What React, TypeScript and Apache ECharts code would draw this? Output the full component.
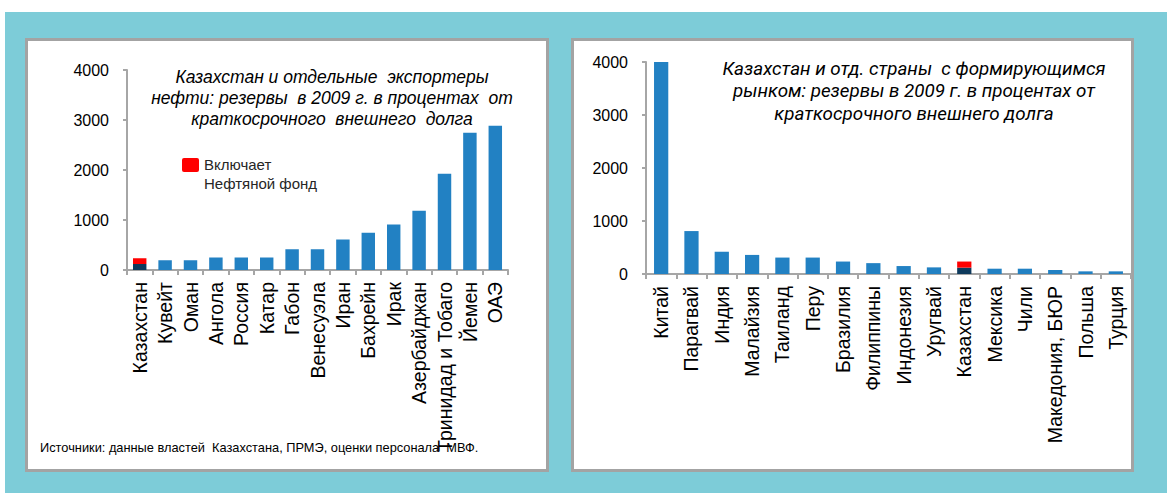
import React, { useEffect, useRef } from "react";
import * as echarts from "echarts";

// Oil exporters: reserves in 2009 as % of short-term external debt
const leftCountries = [
  "Казахстан", "Кувейт", "Оман", "Ангола", "Россия", "Катар", "Габон",
  "Венесуэла", "Иран", "Бахрейн", "Ирак", "Азербайджан",
  "Тринидад и Тобаго", "Йемен", "ОАЭ",
];
const leftReserves = [235, 195, 195, 250, 250, 250, 415, 415, 610, 745, 910, 1185, 1925, 2745, 2885];

// Emerging markets: reserves in 2009 as % of short-term external debt
const rightCountries = [
  "Китай", "Парагвай", "Индия", "Малайзия", "Таиланд", "Перу", "Бразилия",
  "Филиппины", "Индонезия", "Уругвай", "Казахстан", "Мексика", "Чили",
  "Македония, БЮР", "Польша", "Турция",
];
const rightReserves = [4000, 810, 420, 360, 310, 310, 235, 205, 150, 125, 235, 100, 100, 75, 50, 50];

// Kazakhstan without the National Oil Fund
const kazWithoutFund = 120;
const kazName = "Казахстан";

const yTicks = [0, 1000, 2000, 3000, 4000];

const BLUE = "#2281C3";
const NAVY = "#0E3A5C";
const RED = "#FF0000";
const AXIS = "#A6A6A6";
const FONT = "'Liberation Sans', Arial, sans-serif";

function baseData(names: string[], values: number[]) {
  return values.map((v, i) =>
    names[i] === kazName
      ? { value: kazWithoutFund, itemStyle: { color: NAVY } }
      : { value: v, itemStyle: { color: BLUE } }
  );
}

function fundData(names: string[], values: number[]) {
  return values.map((v, i) => (names[i] === kazName ? v - kazWithoutFund : "-"));
}

export default function App() {
  const ref = useRef<HTMLDivElement>(null);

  useEffect(() => {
    if (!ref.current) return;
    const chart = echarts.init(ref.current, null, { renderer: "svg" });

    const xAxisCommon = {
      type: "category" as const,
      axisLine: { lineStyle: { color: AXIS, width: 2 } },
      axisTick: { show: true, interval: 0, length: 5, lineStyle: { color: AXIS, width: 2 } },
      axisLabel: {
        rotate: 90,
        interval: 0,
        margin: 12,
        color: "#000",
        fontSize: 19.5,
        fontFamily: FONT,
      },
    };
    const yAxisCommon = {
      type: "value" as const,
      min: yTicks[0],
      max: yTicks[yTicks.length - 1],
      interval: 1000,
      splitLine: { show: false },
      axisLine: { show: true, lineStyle: { color: AXIS, width: 2 } },
      axisTick: { show: true, length: 4, lineStyle: { color: AXIS, width: 2 } },
      axisLabel: {
        color: "#000",
        fontSize: 16,
        fontFamily: FONT,
        margin: 18,
        formatter: (v: number) => String(v),
      },
    };

    chart.setOption({
      animation: false,
      graphic: [
        { type: "rect", z: -10, shape: { x: 5, y: 12, width: 1162, height: 481 }, style: { fill: "#7DCCD8" } },
        {
          type: "rect", z: -9,
          shape: { x: 26.5, y: 39.5, width: 521, height: 431 },
          style: { fill: "#fff", stroke: "#A3A3A3", lineWidth: 3 },
        },
        {
          type: "rect", z: -9,
          shape: { x: 572.5, y: 39.5, width: 560, height: 431 },
          style: { fill: "#fff", stroke: "#A3A3A3", lineWidth: 3 },
        },
        {
          type: "text", z: 10, x: 332, y: 66,
          style: {
            text: "Казахстан и отдельные  экспортеры\nнефти: резервы  в 2009 г. в процентах  от\nкраткосрочного  внешнего  долга",
            fontFamily: FONT, fontStyle: "italic", fontSize: 17.5, lineHeight: 21,
            fill: "#000", textAlign: "center",
          },
        },
        {
          type: "text", z: 10, x: 914, y: 58,
          style: {
            text: "Казахстан и отд. страны  с формирующимся\nрынком: резервы в 2009 г. в процентах от\nкраткосрочного внешнего долга",
            fontFamily: "Roboto, sans-serif", fontStyle: "italic", fontSize: 18.8, lineHeight: 22.2,
            fill: "#000", textAlign: "center",
          },
        },
        {
          type: "rect", z: 10,
          shape: { x: 182, y: 158, width: 17, height: 14, r: 2 },
          style: { fill: RED },
        },
        {
          type: "text", z: 10, x: 204, y: 155,
          style: {
            text: "Включает\nНефтяной фонд",
            fontFamily: FONT, fontSize: 15, lineHeight: 19, fill: "#262626",
          },
        },
        {
          type: "text", z: 10, x: 40, y: 441,
          style: {
            text: "Источники: данные властей  Казахстана, ПРМЭ, оценки персонала  МВФ.",
            fontFamily: FONT, fontSize: 12.8, fill: "#000",
          },
        },
      ],
      grid: [
        { left: 127, top: 70, width: 381, height: 200 },
        { left: 646, top: 62, width: 485, height: 212 },
      ],
      xAxis: [
        { ...xAxisCommon, gridIndex: 0, data: leftCountries },
        { ...xAxisCommon, gridIndex: 1, data: rightCountries },
      ],
      yAxis: [
        { ...yAxisCommon, gridIndex: 0 },
        { ...yAxisCommon, gridIndex: 1 },
      ],
      series: [
        {
          type: "bar", xAxisIndex: 0, yAxisIndex: 0, stack: "l", barWidth: "53%",
          data: baseData(leftCountries, leftReserves),
        },
        {
          type: "bar", xAxisIndex: 0, yAxisIndex: 0, stack: "l", barWidth: "53%",
          itemStyle: { color: RED },
          data: fundData(leftCountries, leftReserves),
        },
        {
          type: "bar", xAxisIndex: 1, yAxisIndex: 1, stack: "r", barWidth: "47%",
          data: baseData(rightCountries, rightReserves),
        },
        {
          type: "bar", xAxisIndex: 1, yAxisIndex: 1, stack: "r", barWidth: "47%",
          itemStyle: { color: RED },
          data: fundData(rightCountries, rightReserves),
        },
      ],
    });

    return () => chart.dispose();
  }, []);

  return (
    <div
      ref={ref}
      style={{ position: "fixed", left: 0, top: 0, width: 1167, height: 493, background: "#fff" }}
    />
  );
}
